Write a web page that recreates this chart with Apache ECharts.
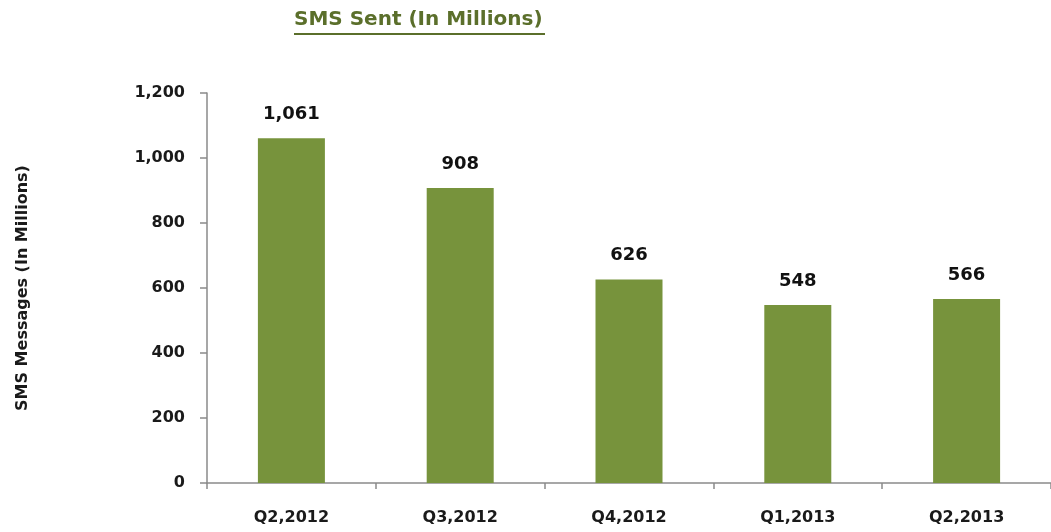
<!DOCTYPE html>
<html>
<head>
<meta charset="utf-8">
<script src="https://cdn.jsdelivr.net/npm/echarts@6/dist/echarts.min.js"></script>
<style>
  html, body { margin: 0; padding: 0; background: #ffffff; }
  #chart { width: 1051px; height: 532px; }
</style>
</head>
<body>
<div id="chart"></div>
<script>
// Quarterly SMS volume, in millions
const quarters = ['Q2,2012', 'Q3,2012', 'Q4,2012', 'Q1,2013', 'Q2,2013'];
const smsSent = [1061, 908, 626, 548, 566];
const yTicks = { min: 0, max: 1200, interval: 200 };

const FONT = '"DejaVu Sans", sans-serif';
const chart = echarts.init(document.getElementById('chart'), null, { renderer: 'canvas' });

chart.setOption({
  animation: false,
  backgroundColor: '#ffffff',
  grid: { left: 207, right: -8, top: 93, bottom: 49, containLabel: false },
  graphic: [
    {
      type: 'text', left: 294, top: 10,
      style: { text: 'SMS Sent (In Millions)', font: 'bold 20px ' + FONT, fill: '#5b6f2b' }
    },
    {
      type: 'line', shape: { x1: 294, y1: 34, x2: 545, y2: 34 },
      style: { stroke: '#5b6f2b', lineWidth: 2 }
    }
  ],
  xAxis: {
    type: 'category',
    data: quarters,
    axisLine: { lineStyle: { color: '#8a8a8a', width: 1.5 } },
    axisTick: { show: true, length: 6, inside: false, lineStyle: { color: '#8a8a8a', width: 1.5 } },
    axisLabel: { color: '#1a1a1a', fontFamily: FONT, fontWeight: 'bold', fontSize: 16, margin: 27 }
  },
  yAxis: {
    type: 'value',
    min: yTicks.min, max: yTicks.max, interval: yTicks.interval,
    name: 'SMS Messages (In Millions)',
    nameLocation: 'middle',
    nameGap: 176,
    nameRotate: 90,
    nameTextStyle: { color: '#1a1a1a', fontFamily: FONT, fontWeight: 'bold', fontSize: 16 },
    splitLine: { show: false },
    axisLine: { show: true, lineStyle: { color: '#8a8a8a', width: 1.5 } },
    axisTick: { show: true, length: 7, lineStyle: { color: '#8a8a8a', width: 1.5 } },
    axisLabel: {
      color: '#1a1a1a', fontFamily: FONT, fontWeight: 'bold', fontSize: 16, margin: 22,
      formatter: v => v.toLocaleString('en-US')
    }
  },
  series: [{
    type: 'bar',
    data: smsSent,
    barWidth: 67,
    itemStyle: { color: '#77933c' },
    label: {
      show: true, position: 'top', distance: 15,
      color: '#111111', fontFamily: FONT, fontWeight: 'bold', fontSize: 18,
      formatter: p => p.value.toLocaleString('en-US')
    }
  }]
});
</script>
</body>
</html>
